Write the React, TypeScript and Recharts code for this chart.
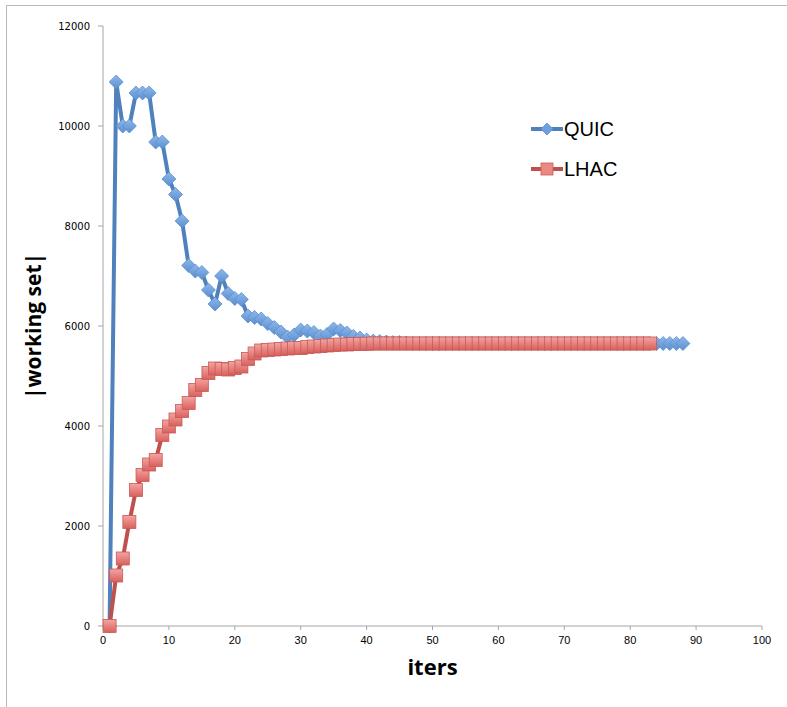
import { LineChart, Line, XAxis, YAxis, Label } from 'recharts';

// iteration numbers
const quicIters = Array.from({ length: 88 }, (_, i) => i + 1);
const lhacIters = Array.from({ length: 83 }, (_, i) => i + 1);

// |working set|
const quicHead = [
  0, 10880, 10000, 10000, 10660, 10660, 10660, 9680, 9680, 8940,
  8630, 8100, 7210, 7100, 7070, 6720, 6440, 7000, 6650, 6550,
  6530, 6200, 6170, 6140, 6050, 5970, 5880, 5780, 5820, 5920,
  5900, 5870, 5800, 5830, 5940, 5910, 5860, 5790, 5760, 5720,
  5700, 5690, 5680, 5670, 5670, 5660,
];
const quicTail = 5650;
const lhacHead = [
  0, 1010, 1350, 2080, 2720, 3020, 3230, 3320, 3820, 3990,
  4130, 4300, 4460, 4720, 4820, 5060, 5150, 5140, 5130, 5160,
  5190, 5340, 5450, 5510, 5520, 5530, 5540, 5550, 5560, 5560,
  5580, 5590, 5600, 5610, 5620, 5630, 5630, 5640, 5640, 5645,
];
const lhacTail = 5650;

const quicValues = quicIters.map((_, i) => (i < quicHead.length ? quicHead[i] : quicTail));
const lhacValues = lhacIters.map((_, i) => (i < lhacHead.length ? lhacHead[i] : lhacTail));

const xTicks = [0, 10, 20, 30, 40, 50, 60, 70, 80, 90, 100];
const yTicks = [0, 2000, 4000, 6000, 8000, 10000, 12000];

const quicData = quicIters.map((x, i) => ({ x, y: quicValues[i] }));
const lhacData = lhacIters.map((x, i) => ({ x, y: lhacValues[i] }));

const BLUE = '#4f81bd';
const RED = '#c0504d';

const Diamond = (props: any) => {
  const { cx, cy } = props;
  if (cx == null || cy == null) return null;
  const r = 7;
  return (
    <polygon
      key={`d-${props.index}`}
      points={`${cx},${cy - r} ${cx + r},${cy} ${cx},${cy + r} ${cx - r},${cy}`}
      fill="url(#blueFill)"
      stroke="#5b8fcf"
      strokeWidth={0.8}
    />
  );
};

const Square = (props: any) => {
  const { cx, cy } = props;
  if (cx == null || cy == null) return null;
  const s = 13;
  return (
    <rect
      key={`s-${props.index}`}
      x={cx - s / 2}
      y={cy - s / 2}
      width={s}
      height={s}
      fill="url(#redFill)"
      stroke="#c85a57"
      strokeWidth={0.8}
    />
  );
};

// legend drawn as an overlay so it takes no room from the plot
const LegendBox = () => (
  <svg width={110} height={70} style={{ position: 'absolute', left: 528, top: 114 }}>
    <line x1={3} y1={15} x2={35} y2={15} stroke={BLUE} strokeWidth={4} />
    <polygon points="19,9 25,15 19,21 13,15" fill="#6fa0dc" stroke="#5b8fcf" strokeWidth={0.8} />
    <text x={36} y={22} fontSize={20} fontFamily="Liberation Sans, Arial, sans-serif" fill="#000">QUIC</text>
    <line x1={3} y1={55} x2={35} y2={55} stroke={RED} strokeWidth={4} />
    <rect x={13} y={49} width={12} height={12} fill="#e98985" stroke="#c85a57" strokeWidth={0.8} />
    <text x={36} y={62} fontSize={20} fontFamily="Liberation Sans, Arial, sans-serif" fill="#000">LHAC</text>
  </svg>
);

export default function App() {
  return (
    <div style={{ position: 'absolute', left: 0, top: 0, width: 787, height: 707, background: '#fff', overflow: 'hidden' }}>
      <div
        style={{
          position: 'absolute',
          left: 6,
          top: 5,
          width: 800,
          height: 720,
          borderLeft: '1px solid #b8b8b8',
          borderTop: '1px solid #b8b8b8',
        }}
      />
      <LineChart width={787} height={707} margin={{ top: 26, right: 25, bottom: 31, left: 0 }}>
        <defs>
          <linearGradient id="blueFill" x1="0" y1="0" x2="0" y2="1">
            <stop offset="0%" stopColor="#8fb8ea" />
            <stop offset="100%" stopColor="#5b8fd0" />
          </linearGradient>
          <linearGradient id="redFill" x1="0" y1="0" x2="0" y2="1">
            <stop offset="0%" stopColor="#f3a5a2" />
            <stop offset="100%" stopColor="#d9605c" />
          </linearGradient>
        </defs>
        <XAxis
          dataKey="x"
          type="number"
          domain={[0, 100]}
          ticks={xTicks}
          allowDuplicatedCategory={false}
          height={50}
          stroke="#a6a6a6"
          tickSize={4}
          tickMargin={6}
          tick={{ fontSize: 11, fill: '#000', fontFamily: 'Liberation Sans, Arial, sans-serif' }}
        >
          <Label
            value="iters"
            position="bottom"
            offset={-17}
            style={{ fontSize: 22, fontWeight: 'bold', fill: '#000', fontFamily: 'Open Sans, sans-serif' }}
          />
        </XAxis>
        <YAxis
          dataKey="y"
          type="number"
          domain={[0, 12000]}
          ticks={yTicks}
          width={103}
          stroke="#a6a6a6"
          tickSize={5}
          tickMargin={8}
          tick={{ fontSize: 10, fill: '#000', fontFamily: 'DejaVu Sans, sans-serif' }}
        >
          <Label
            value="|working set|"
            angle={-90}
            position="insideLeft"
            offset={34}
            style={{ fontSize: 21, fontWeight: 'bold', fill: '#000', fontFamily: 'Open Sans, sans-serif', textAnchor: 'middle' }}
          />
        </YAxis>
        <Line
          data={quicData}
          dataKey="y"
          name="QUIC"
          stroke={BLUE}
          strokeWidth={4}
          dot={<Diamond />}
          activeDot={false}
          isAnimationActive={false}
        />
        <Line
          data={lhacData}
          dataKey="y"
          name="LHAC"
          stroke={RED}
          strokeWidth={4}
          dot={<Square />}
          activeDot={false}
          isAnimationActive={false}
        />
      </LineChart>
      <LegendBox />
    </div>
  );
}
